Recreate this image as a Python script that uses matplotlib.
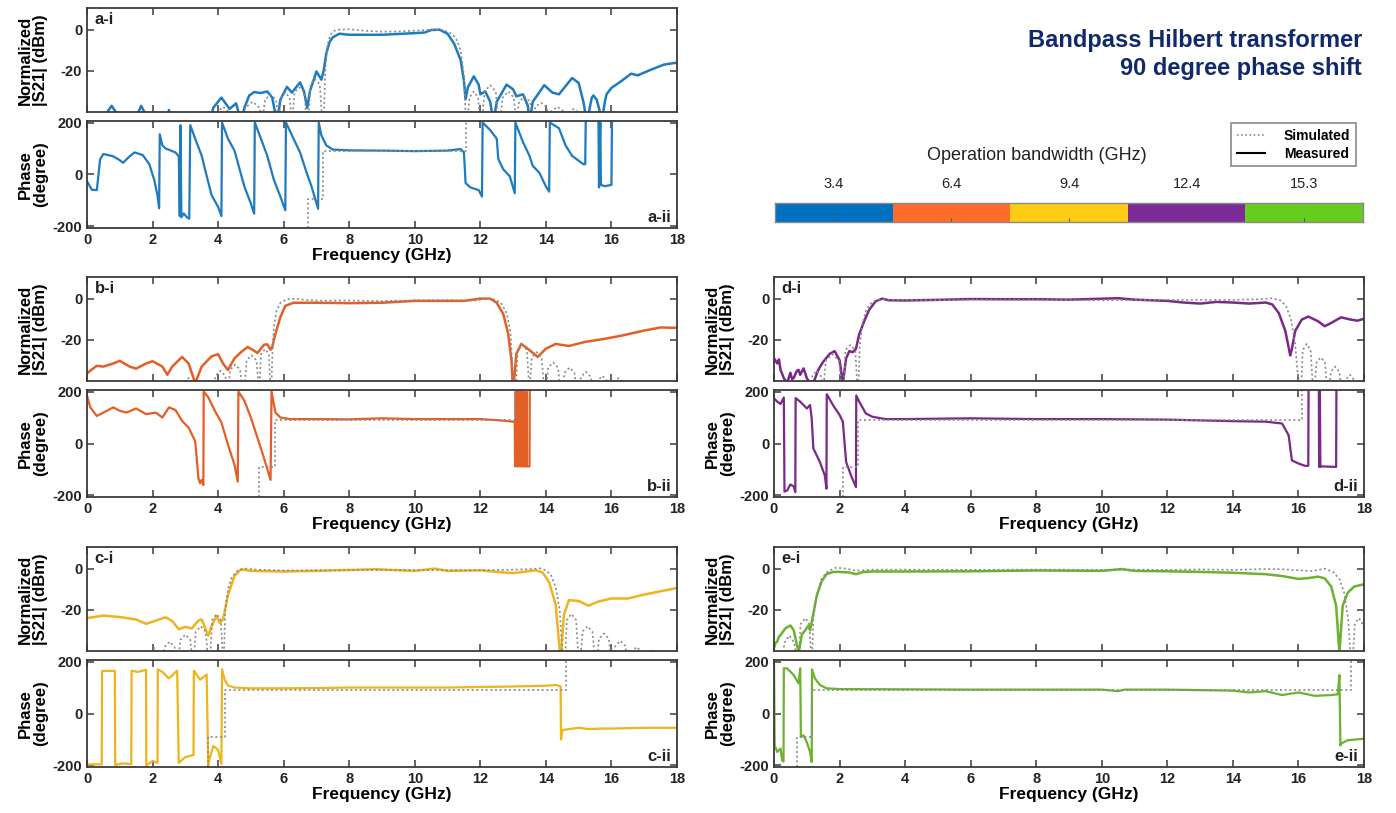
import numpy as np
import matplotlib.pyplot as plt
from matplotlib.lines import Line2D

plt.rcParams['font.family'] = ['Liberation Sans', 'DejaVu Sans']
plt.rcParams['axes.unicode_minus'] = False

# ---- data: (GHz, value) ----
# a : 3.4 GHz bandwidth
a_mag_meas = [(0,-45),(0.55,-45),(0.62,-40),(0.75,-37),(0.88,-40),(0.95,-45),(1.5,-45),(1.57,-40),(1.65,-37),
              (1.75,-40),(1.8,-45),(2.45,-45),(2.5,-39),(2.55,-45),(3.75,-45),(3.85,-38),(4.1,-33),(4.35,-38.5),
              (4.55,-35.8),(4.7,-45),(4.8,-38),(4.95,-32),(5.1,-30.3),(5.3,-30.8),(5.5,-30),(5.65,-33),(5.8,-45),
              (5.9,-34),(6.1,-27.8),(6.25,-30.6),(6.5,-25.6),(6.62,-30),(6.72,-38),(6.8,-30),(7.0,-20.3),(7.15,-24.3),
              (7.22,-20),(7.3,-11.6),(7.4,-6),(7.5,-3.7),(7.7,-2),(8,-2.5),(9,-2.5),(10,-1.7),(10.3,-1.4),(10.5,-0.2),
              (10.75,0),(11.0,-2),(11.2,-6.8),(11.4,-14.8),(11.5,-25),(11.55,-33.8),(11.62,-28),(11.8,-22.7),
              (11.95,-26.7),(12.0,-31.4),(12.15,-30),(12.3,-35),(12.4,-45),(12.5,-35),(12.8,-26.7),(13.0,-29),
              (13.1,-32.4),(13.3,-31.4),(13.45,-37),(13.5,-45),(13.6,-35),(13.95,-27),(14.2,-30.6),(14.4,-31.4),
              (14.8,-23.5),(15.0,-25.9),(15.15,-35.5),(15.25,-45),(15.4,-33),(15.45,-32),(15.55,-34),(15.65,-40),
              (15.7,-45),(15.8,-35),(15.85,-31.4),(16.0,-28.3),(16.3,-25),(16.6,-21.4),(16.8,-22.2),(17.2,-19.5),
              (17.6,-17),(18,-16)]
a_mag_sim = [(3.9,-45),(3.97,-40),(4.15,-37.5),(4.33,-40),(4.4,-45),
             (4.75,-45),(4.83,-38),(5.05,-35),(5.27,-38),(5.35,-45),
             (5.43,-34),(5.6,-31.5),(5.77,-34),(5.85,-45),
             (5.92,-33),(6.05,-30.5),(6.18,-33),(6.25,-45),
             (6.33,-30.5),(6.48,-28),(6.63,-30.5),(6.7,-45),
             (6.75,-45),(6.82,-26.5),(6.95,-24),(7.1,-26.5),(7.18,-45),
             (7.22,-45),(7.27,-20),(7.33,-8),(7.42,-2.5),(7.55,-0.5),(7.7,0),(8.0,0.2),(8.5,-0.6),(9.0,-1.0),
             (9.5,-0.9),(10.0,-0.5),(10.5,0),(10.85,-0.2),(11.05,-1.2),(11.25,-4),(11.4,-10),(11.5,-22),(11.56,-45),
             (11.6,-45),(11.67,-33),(11.8,-30),(11.93,-33),(12.0,-45),
             (12.05,-45),(12.13,-30),(12.3,-27),(12.47,-30),(12.55,-45),
             (12.6,-45),(12.68,-33),(12.85,-30),(13.02,-33),(13.1,-45),
             (13.18,-35),(13.35,-32.5),(13.52,-35),(13.6,-45),
             (13.68,-37.5),(13.85,-35.5),(14.02,-37.5),(14.1,-45),
             (14.18,-39.5),(14.35,-37.5),(14.52,-39.5),(14.6,-45),
             (14.68,-40.5),(14.85,-38.5),(15.02,-40.5),(15.1,-45)]
a_ph_meas = [(0,-26),(0.15,-59),(0.3,-60),(0.4,59),(0.5,79),(0.8,70),(1.0,55),(1.1,45),(1.3,70),(1.45,85),(1.7,75),
             (1.9,40),(2.05,-20),(2.15,-80),(2.2,-130),(2.22,155),(2.3,112),(2.4,100),(2.5,95),(2.6,90),(2.7,85),
             (2.8,70),(2.83,-160),(2.85,190),(2.88,-165),(2.95,-150),(3.05,-165),(3.12,-170),(3.15,190),(3.3,138),
             (3.5,72),(3.6,20),(3.8,-79),(4.0,-125),(4.1,-160),(4.12,200),(4.3,138),(4.5,92),(4.6,46),(4.8,-46),
             (5.0,-112),(5.1,-151),(5.12,200),(5.3,140),(5.5,72),(5.7,-20),(5.9,-85),(6.05,-138),(6.07,200),
             (6.3,138),(6.5,85),(6.7,7),(6.85,-46),(7.05,-132),(7.07,200),(7.15,151),(7.3,112),(7.5,96),(8,93),
             (9,92),(10,90),(11,92),(11.4,98),(11.5,85),(11.55,-33),(11.7,-50),(11.95,-60),(12.05,-85),(12.07,200),
             (12.3,171),(12.5,138),(12.55,59),(12.7,20),(12.9,-7),(13.05,-72),(13.07,200),(13.3,125),(13.5,72),
             (13.6,33),(13.8,7),(14.0,-46),(14.1,-66),(14.12,200),(14.4,178),(14.6,112),(14.8,72),(15.0,53),
             (15.15,39),(15.2,40),(15.22,260),(15.6,260),(15.62,-50),(15.66,200),(15.68,-40),(15.8,-45),(16.0,-40),
             (16.02,260),(18,260)]
a_ph_sim = [(6.75,-260),(6.75,-95),(7.2,-95),(7.2,90),(11.55,90),(11.55,260)]

# b : 6.4 GHz bandwidth
b_mag_meas = [(0,-36.3),(0.1,-35),(0.3,-32.6),(0.5,-33),(0.8,-31.5),(1.0,-30.2),(1.3,-33),(1.5,-34),(1.8,-31.5),
              (2.0,-30.4),(2.3,-33),(2.45,-37),(2.6,-33),(2.9,-28.3),(3.1,-31.5),(3.3,-41),(3.5,-33),(3.8,-28),
              (4.0,-27),(4.15,-31.5),(4.3,-34.7),(4.5,-29),(4.7,-26),(4.9,-23.5),(5.05,-24.8),(5.2,-26.4),
              (5.4,-22.4),(5.5,-22.2),(5.6,-24.8),(5.65,-23.5),(5.75,-17),(5.9,-9),(6.05,-3.5),(6.3,-2),(7,-2),
              (8,-2.2),(9,-2),(10,-1.1),(11,-1.1),(11.5,-1.1),(12,0),(12.3,0),(12.5,-2),(12.7,-7.5),(12.85,-17),
              (12.95,-30),(13.0,-45),(13.1,-26.7),(13.25,-22),(13.5,-25),(13.75,-28.3),(14.0,-24.3),(14.3,-22),
              (14.7,-23),(15.2,-21),(15.8,-19.5),(16.3,-18),(17,-15.5),(17.5,-14),(18,-14.2)]
b_mag_sim = [(2.9,-45),(2.97,-41),(3.1,-38.5),(3.23,-41),(3.3,-45),
             (3.85,-45),(3.92,-37.5),(4.07,-35),(4.22,-37.5),(4.3,-45),
             (4.37,-34.5),(4.52,-32),(4.67,-34.5),(4.75,-45),
             (4.8,-45),(4.87,-30),(5.02,-27.5),(5.17,-30),(5.25,-45),
             (5.31,-27),(5.43,-24.5),(5.55,-27),(5.6,-45),
             (5.62,-45),(5.66,-25),(5.7,-14),(5.78,-6),(5.9,-2),(6.1,-0.3),(6.35,0),(6.7,-0.7),(7.2,-1),(8,-0.9),
             (9,-1.2),(10,-0.8),(11,-0.7),(11.8,-1),(12.2,0),(12.45,-0.4),(12.65,-2.5),(12.8,-7),(12.92,-16),(13.02,-45),
             (13.08,-45),(13.14,-25),(13.28,-22.5),(13.42,-25),(13.5,-45),
             (13.57,-28.5),(13.72,-26),(13.87,-28.5),(13.95,-45),
             (14.0,-45),(14.07,-33.5),(14.22,-31),(14.37,-33.5),(14.45,-45),
             (14.5,-45),(14.57,-36),(14.72,-33.5),(14.87,-36),(14.95,-45),
             (15.0,-45),(15.07,-38),(15.22,-35.5),(15.37,-38),(15.45,-45),
             (15.5,-45),(15.57,-40),(15.72,-37.5),(15.87,-40),(15.95,-45),
             (16.0,-45),(16.07,-41),(16.22,-38.5),(16.37,-41),(16.45,-45)]
b_ph_meas = [(0,184),(0.1,139),(0.3,106),(0.5,119),(0.8,139),(1.0,126),(1.2,119),(1.5,135),(1.8,113),(2.1,119),
             (2.3,100),(2.5,139),(2.7,129),(2.9,87),(3.1,61),(3.3,9),(3.4,-134),(3.45,-153),(3.5,-140),(3.55,-160),
             (3.56,200),(3.7,178),(3.9,126),(4.1,81),(4.3,-4),(4.5,-82),(4.6,-147),(4.62,200),(4.8,165),(5.0,100),
             (5.2,22),(5.4,-56),(5.6,-140),(5.63,200),(5.75,119),(5.9,100),(6.2,94),(7,94),(8,93),(9,97),(10,94),
             (11,94),(12,94),(12.5,90),(13.0,84),(13.05,84),(13.06,-88),(13.08,200),(13.1,-88),(13.12,200),
             (13.14,-88),(13.16,200),(13.18,-88),(13.2,200),(13.22,-88),(13.24,200),(13.26,-88),(13.28,200),
             (13.3,-88),(13.32,200),(13.34,-88),(13.4,-88),(13.41,200),(13.42,-88),(13.5,-88),(13.51,260),(18,260)]
b_ph_sim = [(5.25,-260),(5.25,-90),(5.75,-90),(5.75,90),(13.05,90),(13.05,260)]

# c : 9.4 GHz bandwidth
c_mag_meas = [(0,-24),(0.5,-22.8),(1.0,-23.5),(1.5,-24.7),(1.8,-26.8),(2.0,-25.8),(2.2,-24.7),(2.4,-23.6),
              (2.6,-25.5),(2.8,-29.4),(3.0,-28.3),(3.2,-29),(3.4,-25.2),(3.5,-24.7),(3.7,-32.6),(3.8,-27.9),
              (3.95,-23),(4.05,-26.3),(4.15,-24.7),(4.3,-12.9),(4.5,-3.5),(4.7,-0.3),(5.0,-1.1),(6,-1.4),(7,-1.1),
              (8.8,-0.3),(10,-1.1),(10.6,0),(11,-1.1),(12,-0.8),(12.5,-1.6),(13.0,-2.2),(13.3,-1.6),(13.7,-0.8),
              (13.9,-1.9),(14.1,-6.6),(14.3,-17.6),(14.45,-45),(14.55,-22.4),(14.7,-15.3),(15.0,-15.7),(15.3,-18),
              (15.6,-16),(16.0,-14.5),(16.5,-14.5),(17,-12.6),(17.5,-11),(18,-9.4)]
c_mag_sim = [(1.85,-45),(1.92,-41),(2.05,-38.5),(2.18,-41),(2.25,-45),
             (2.3,-45),(2.37,-38),(2.52,-35.5),(2.67,-38),(2.75,-45),
             (2.78,-45),(2.85,-34.5),(3.0,-32),(3.15,-34.5),(3.22,-45),
             (3.25,-45),(3.32,-30.5),(3.47,-28),(3.62,-30.5),(3.7,-45),
             (3.75,-45),(3.82,-25),(3.95,-22),(4.08,-25),(4.15,-45),
             (4.17,-45),(4.22,-20),(4.3,-10),(4.42,-4),(4.6,-1),(4.85,0),(5.2,-0.5),(6,-0.9),(7,-0.8),(8,-0.7),
             (9,-0.6),(10,-0.7),(11,-0.8),(12,-0.8),(13,-0.5),(13.6,-0.2),(13.8,0.2),(14.0,-0.8),(14.15,-3),
             (14.3,-9),(14.42,-20),(14.52,-45),
             (14.58,-45),(14.64,-25),(14.78,-22),(14.92,-25),(15.0,-45),
             (15.05,-45),(15.12,-30.5),(15.27,-28),(15.42,-30.5),(15.5,-45),
             (15.55,-45),(15.62,-34),(15.77,-31.5),(15.92,-34),(16.0,-45),
             (16.05,-45),(16.12,-37.5),(16.27,-35),(16.42,-37.5),(16.5,-45),
             (16.55,-45),(16.62,-40.5),(16.77,-38),(16.92,-40.5),(17.0,-45),
             (17.05,-45),(17.12,-42),(17.27,-39.5),(17.42,-42),(17.5,-45)]
c_ph_meas = [(0,-196),(0.45,-196),(0.46,164),(0.85,164),(0.86,-198),(1.1,-192),(1.35,-195),(1.36,165),(1.55,160),
             (1.8,168),(1.81,-200),(2.0,-183),(2.15,-190),(2.16,170),(2.3,160),(2.5,135),(2.75,165),(2.8,-190),
             (3.0,-168),(3.25,-160),(3.26,165),(3.45,130),(3.65,150),(3.7,-200),(3.75,-170),(3.85,-125),(4.0,-140),
             (4.1,-195),(4.12,170),(4.2,130),(4.3,108),(4.5,100),(5,97),(6,97),(7,98),(8,100),(9,100),(10,100),
             (11,100),(12,102),(13,104),(14,107),(14.3,110),(14.45,105),(14.46,-100),(14.5,-64),(14.7,-60),
             (15,-55),(15.3,-60),(15.7,-58),(16,-58),(17,-55),(18,-55)]
c_ph_sim = [(3.7,-260),(3.7,-90),(4.2,-90),(4.2,90),(14.6,90),(14.6,260)]

# d : 12.4 GHz bandwidth
d_mag_meas = [(0,-29),(0.1,-31.5),(0.15,-29.5),(0.2,-34.6),(0.3,-38.6),(0.4,-41),(0.5,-36),(0.55,-39),(0.6,-38.6),
              (0.7,-35),(0.75,-34.6),(0.8,-37),(0.9,-33.9),(0.95,-36),(1.0,-38.6),(1.1,-41),(1.2,-41),(1.35,-34.6),
              (1.5,-30.7),(1.7,-26.8),(1.85,-25.5),(2.0,-29.9),(2.1,-41),(2.2,-29),(2.3,-25.5),(2.4,-26),
              (2.5,-24.4),(2.6,-17.3),(2.75,-11),(2.9,-5.5),(3.1,-1.3),(3.3,0),(3.5,-0.8),(4,-0.9),(5,-0.6),
              (6,-0.2),(7,-0.3),(8,-0.3),(9,-0.5),(10.5,0.2),(11,-0.5),(12,-1.1),(12.5,-1.9),(13,-2.4),(13.5,-1.6),
              (14,-1.9),(14.5,-2.4),(15,-1.9),(15.2,-2.8),(15.4,-7),(15.6,-15.7),(15.75,-27.6),(15.8,-24.4),
              (15.9,-15.7),(16.1,-10.2),(16.3,-8.7),(16.6,-11),(16.8,-13.4),(17.0,-11.8),(17.3,-9.1),(17.6,-10.2),
              (17.8,-10.7),(18,-9.8)]
d_mag_sim = [(1.1,-45),(1.17,-37.5),(1.3,-35),(1.43,-37.5),(1.5,-45),
             (1.58,-30),(1.78,-27),(1.98,-30),(2.08,-45),
             (2.12,-45),(2.18,-25),(2.33,-22.5),(2.48,-25),(2.55,-45),
             (2.57,-45),(2.62,-22),(2.7,-12),(2.82,-5),(3.0,-1.5),(3.25,-0.3),(3.6,-0.6),(4.5,-0.8),(6,-0.5),
             (8,-0.6),(10,-0.8),(12,-0.6),(14,-0.6),(14.8,-0.3),(15.2,0.2),(15.45,-0.8),(15.62,-3.5),(15.77,-10),
             (15.9,-22),(16.02,-45),
             (16.08,-45),(16.13,-25),(16.25,-22),(16.37,-25),(16.45,-45),
             (16.48,-45),(16.55,-31),(16.68,-28.5),(16.81,-31),(16.88,-45),
             (16.92,-45),(16.99,-35.5),(17.12,-33),(17.25,-35.5),(17.32,-45),
             (17.37,-45),(17.44,-39.5),(17.57,-37),(17.7,-39.5),(17.77,-45),
             (17.8,-45),(17.85,-41),(17.93,-39.5),(18.0,-41)]
d_ph_meas = [(0,174),(0.1,161),(0.2,152),(0.3,177),(0.32,-185),(0.4,-181),(0.5,-158),(0.6,-165),(0.65,-187),
             (0.66,175),(0.8,161),(1.0,135),(1.1,148),(1.15,97),(1.2,-19),(1.4,-71),(1.55,-123),(1.6,-174),
             (1.61,190),(1.8,148),(2.0,110),(2.1,84),(2.2,-71),(2.35,-123),(2.5,-168),(2.51,185),(2.6,161),
             (2.8,116),(3.0,103),(3.4,94),(4,94),(6,97),(8,94),(10,94),(12,92),(14,86),(15,84),(15.5,77),
             (15.7,32),(15.8,-65),(16.0,-77),(16.2,-86),(16.3,-86),(16.31,260),(16.62,260),(16.63,-90),
             (16.65,260),(16.67,-90),(16.7,-88),(17.1,-90),(17.15,-90),(17.16,260),(18,260)]
d_ph_sim = [(2.1,-260),(2.1,-90),(2.55,-90),(2.55,90),(16.1,90),(16.1,260)]

# e : 15.3 GHz bandwidth
e_mag_meas = [(0,-38.6),(0.05,-36),(0.1,-35.4),(0.15,-33),(0.2,-32.3),(0.3,-30),(0.35,-29),(0.45,-28),(0.5,-27.6),
              (0.6,-29.9),(0.7,-37),(0.75,-41),(0.85,-32),(0.95,-30),(1.05,-27.6),(1.1,-30),(1.15,-26),(1.3,-13.4),
              (1.45,-6.3),(1.6,-2.7),(1.8,-1.6),(2.0,-1.6),(2.3,-1.9),(2.5,-2.7),(2.7,-1.7),(3,-1.4),(4,-1.4),
              (6,-1.3),(8,-0.9),(10,-1.1),(10.6,-0.2),(11,-1.1),(12,-1.3),(13,-1.6),(14,-2.0),(15,-2.7),
              (15.5,-3.6),(16.0,-5),(16.3,-4.6),(16.6,-3.9),(16.8,-4.7),(17.0,-8.7),(17.15,-18),(17.25,-41),
              (17.35,-18),(17.5,-11.8),(17.7,-8.7),(18,-7.6)]
e_mag_sim = [(0.25,-45),(0.32,-36),(0.47,-32.5),(0.62,-36),(0.7,-45),
             (0.75,-45),(0.81,-27),(0.96,-24),(1.08,-27),(1.14,-45),
             (1.16,-45),(1.2,-24),(1.3,-13),(1.45,-5),(1.65,-1.2),(1.9,0.5),(2.2,0),(2.5,-1),(3,-0.5),(4,-0.5),
             (6,-0.6),(8,-0.5),(10,-0.6),(11,-0.5),(12,-0.6),(13,-0.4),(14,-0.6),(15,-0.2),(15.5,-0.3),(16.0,-0.8),
             (16.4,-1.2),(16.8,0),(17.05,-1.5),(17.25,-5),(17.4,-12),(17.52,-25),(17.6,-45),
             (17.65,-45),(17.72,-27),(17.84,-24),(17.93,-26),(18,-29)]
e_ph_meas = [(0,200),(0.02,-123),(0.1,-148),(0.2,-135),(0.25,-181),(0.29,-185),(0.3,174),(0.4,174),(0.6,148),
             (0.75,116),(0.8,174),(0.82,-90),(0.9,-84),(1.0,-110),(1.1,-148),(1.15,-187),(1.16,170),(1.25,135),
             (1.4,110),(1.6,97),(2,94),(4,93),(6,92),(8,92),(10,92),(10.5,86),(10.7,92),(12,92),(13,90),(14,88),
             (14.5,81),(15,86),(15.5,71),(16,81),(16.5,68),(17,71),(17.2,74),(17.25,148),(17.28,-123),(17.3,-116),
             (17.5,-103),(18,-97)]
e_ph_sim = [(0.7,-260),(0.7,-90),(1.15,-90),(1.15,90),(17.6,90),(17.6,260)]

bw_labels = ['3.4', '6.4', '9.4', '12.4', '15.3']
bw_colors = ['#0070C0', '#FF6B2B', '#FFCC14', '#7B2C96', '#66CC1E']
line_colors = ['#1E7BC0', '#E35F26', '#EFB41C', '#7A2889', '#6BB22E']

SIM_COLOR = '#8a8a8a'
SPINE = '#3a3a3a'
W, H = 1396, 813


def frac_box(x0, top, w, h):
    return [x0 / W, 1 - (top + h) / H, w / W, h / H]


def style(ax):
    for s in ax.spines.values():
        s.set_color(SPINE)
        s.set_linewidth(1.3)
    ax.tick_params(direction='in', top=True, right=True, length=5, width=1.1,
                   colors=SPINE, labelsize=10.5, labelcolor='#222222')
    for lab in ax.get_xticklabels() + ax.get_yticklabels():
        lab.set_fontweight('bold')
    ax.set_xlim(0, 18)
    ax.set_xticks(np.arange(0, 19, 2))


def panel(x0, top, tag, color, mag_meas, mag_sim, ph_meas, ph_sim):
    ax1 = fig.add_axes(frac_box(x0, top, 590, 104))
    ax2 = fig.add_axes(frac_box(x0, top + 113, 590, 107))

    f, v = np.array(mag_meas).T
    ax1.plot(f, v, color=color, lw=1.8)
    f, v = np.array(mag_sim).T
    ax1.plot(f, v, ls=(0, (1.2, 1.6)), color=SIM_COLOR, lw=1.2)
    ax1.set_ylim(-40, 10.5)
    ax1.set_yticks([-20, 0])
    ax1.tick_params(labelbottom=False)

    f, v = np.array(ph_meas).T
    ax2.plot(f, v, color=color, lw=1.6)
    f, v = np.array(ph_sim).T
    ax2.plot(f, v, ls=(0, (1.2, 1.6)), color=SIM_COLOR, lw=1.2)
    ax2.set_ylim(-206, 206)
    ax2.set_yticks([-200, 0, 200])

    style(ax1)
    style(ax2)
    ax1.set_ylabel('Normalized\n|S21| (dBm)', fontsize=12, fontweight='bold', linespacing=1.05)
    ax2.set_ylabel('Phase\n(degree)', fontsize=12, fontweight='bold', linespacing=1.05)
    ax1.yaxis.set_label_coords(-0.066, 0.5)
    ax2.yaxis.set_label_coords(-0.066, 0.5)
    ax2.set_xlabel('Frequency (GHz)', fontsize=12.5, fontweight='bold', labelpad=1)
    ax1.text(0.013, 0.885, tag + '-i', transform=ax1.transAxes, fontsize=12,
             fontweight='bold', va='center', ha='left', color='#222222')
    ax2.text(0.99, 0.1, tag + '-ii', transform=ax2.transAxes, fontsize=12,
             fontweight='bold', va='center', ha='right', color='#222222')


fig = plt.figure(figsize=(W / 100, H / 100), dpi=100)

panel(87, 8, 'a', line_colors[0], a_mag_meas, a_mag_sim, a_ph_meas, a_ph_sim)
panel(87, 277, 'b', line_colors[1], b_mag_meas, b_mag_sim, b_ph_meas, b_ph_sim)
panel(87, 547, 'c', line_colors[2], c_mag_meas, c_mag_sim, c_ph_meas, c_ph_sim)
panel(774, 277, 'd', line_colors[3], d_mag_meas, d_mag_sim, d_ph_meas, d_ph_sim)
panel(774, 547, 'e', line_colors[4], e_mag_meas, e_mag_sim, e_ph_meas, e_ph_sim)

# title
fig.text(1362 / W, 1 - 40 / H, 'Bandpass Hilbert transformer', ha='right', va='center',
         fontsize=17, fontweight='bold', color='#10296A')
fig.text(1362 / W, 1 - 68 / H, '90 degree phase shift', ha='right', va='center',
         fontsize=17, fontweight='bold', color='#10296A')

# legend
handles = [Line2D([], [], ls=(0, (1, 1.5)), color=SIM_COLOR, lw=1.2),
           Line2D([], [], color='black', lw=1.5)]
leg = fig.legend(handles, ['Simulated', 'Measured'], loc='upper right',
                 bbox_to_anchor=(1363 / W, 1 - 116 / H), fancybox=False, edgecolor='#777777',
                 prop={'weight': 'bold', 'size': 10}, handlelength=2.0, borderpad=0.4,
                 labelspacing=0.3, handletextpad=1.4)
leg.get_frame().set_linewidth(1.3)

# colour key
fig.text(1037 / W, 1 - 155 / H, 'Operation bandwidth (GHz)', ha='center', va='center',
         fontsize=13, color='#222222')
cax = fig.add_axes(frac_box(775, 203, 588, 19))
cax.bar(np.arange(len(bw_labels)), 1, width=1, align='edge', color=bw_colors)
cax.set_xlim(0, len(bw_labels))
cax.set_ylim(0, 1)
cax.set_yticks([])
cax.set_xticks(np.arange(len(bw_labels)) + 0.5)
cax.set_xticklabels(bw_labels)
cax.tick_params(axis='x', top=False, bottom=True, labeltop=True, labelbottom=False,
                direction='in', length=3, width=0.8, colors='#555555', labelcolor='#222222',
                labelsize=10.5, pad=9)
for s in cax.spines.values():
    s.set_color('#888888')
    s.set_linewidth(1)

fig.savefig('out.png', dpi=100)
